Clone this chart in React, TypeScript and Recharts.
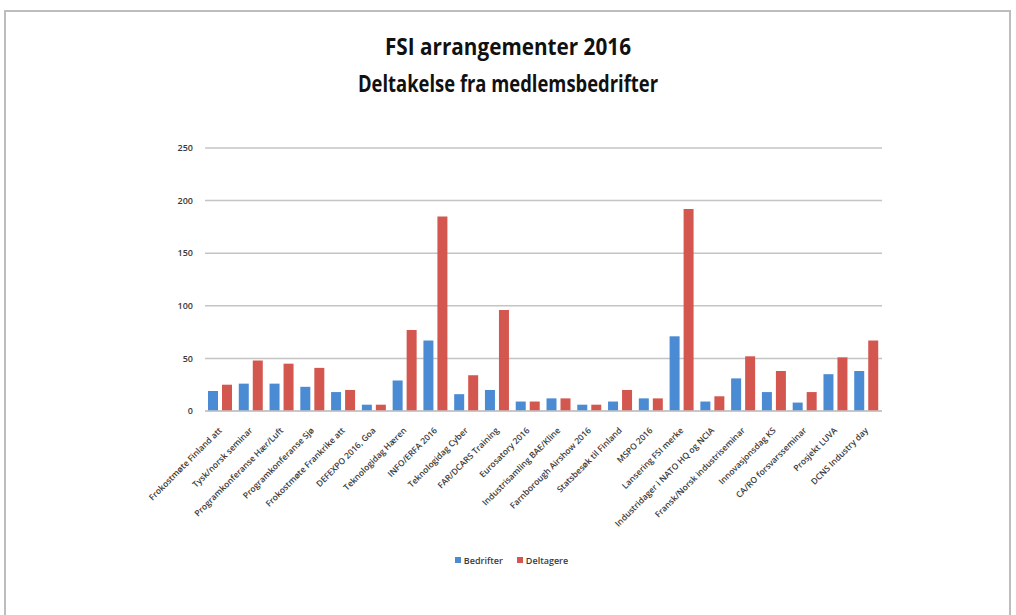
import React from "react";
import { BarChart, Bar, XAxis, YAxis, CartesianGrid, Legend } from "recharts";

const categories = [
  "Frokostmøte Finland att",
  "Tysk/norsk seminar",
  "Programkonferanse Hær/Luft",
  "Programkonferanse Sjø",
  "Frokostmøte Frankrike att",
  "DEFEXPO 2016, Goa",
  "Teknologidag Hæren",
  "INFO/ERFA 2016",
  "Teknologidag Cyber",
  "FAR/DCARS Training",
  "Eurosatory 2016",
  "Industrisamling BAE/Kline",
  "Farnborough Airshow 2016",
  "Statsbesøk til Finland",
  "MSPO 2016",
  "Lansering FSI merke",
  "Industridager i NATO HQ og NCIA",
  "Fransk/Norsk industriseminar",
  "Innovasjonsdag KS",
  "CA/RO forsvarsseminar",
  "Prosjekt LUVA",
  "DCNS Industry day",
];
const bedrifter = [19, 26, 26, 23, 18, 6, 29, 67, 16, 20, 9, 12, 6, 9, 12, 71, 9, 31, 18, 8, 35, 38];
const deltagere = [25, 48, 45, 41, 20, 6, 77, 185, 34, 96, 9, 12, 6, 20, 12, 192, 14, 52, 38, 18, 51, 67];
const yTicks = [0, 50, 100, 150, 200, 250];
const seriesNames = ["Bedrifter", "Deltagere"];
const colors = ["#4a8bd3", "#d4574f"];

const data = categories.map((c, i) => ({
  name: c,
  Bedrifter: bedrifter[i],
  Deltagere: deltagere[i],
}));

const FONT = "'Open Sans', 'Noto Sans', sans-serif";

const XTick = (props: any) => {
  const { x, y, payload } = props;
  return (
    <g transform={`translate(${x + 2},${y + 12})`}>
      <text
        x={0}
        y={0}
        textAnchor="end"
        transform="rotate(-45)"
        fontSize={8.5}
        fontWeight={600}
        fill="#3a3a3a"
        fontFamily={FONT}
      >
        {payload.value}
      </text>
    </g>
  );
};

const LegendContent = () => (
  <div style={{ display: "flex", justifyContent: "center", height: 20, alignItems: "center", fontFamily: FONT, fontSize: 9, fontWeight: 600, color: "#3a3a3a", paddingRight: 34 }}>
    {seriesNames.map((n, i) => (
      <div key={n} style={{ display: "flex", alignItems: "center", marginRight: i === 0 ? 14 : 0 }}>
        <div style={{ width: 6, height: 6, background: colors[i], marginRight: 3 }} />
        <span>{n}</span>
      </div>
    ))}
  </div>
);

export default function App() {
  return (
    <div style={{ position: "absolute", left: 0, top: 0, width: 1016, height: 615, background: "#fff", overflow: "hidden" }}>
      <div style={{ position: "absolute", left: 4, top: 10, width: 1007, height: 620, border: "2px solid #bdbdbd", boxSizing: "border-box" }} />
      <svg style={{ position: "absolute", left: 0, top: 0 }} width={1016} height={120}>
        <text x={508} y={55} textAnchor="middle" fontFamily={FONT} fontWeight={700} fontSize={23} fill="#111" textLength={246} lengthAdjust="spacingAndGlyphs">
          FSI arrangementer 2016
        </text>
        <text x={508} y={92} textAnchor="middle" fontFamily={FONT} fontWeight={700} fontSize={23} fill="#111" textLength={300} lengthAdjust="spacingAndGlyphs">
          Deltakelse fra medlemsbedrifter
        </text>
      </svg>
      <div style={{ position: "absolute", left: 0, top: 0 }}>
        <BarChart
          width={1016}
          height={615}
          data={data}
          margin={{ top: 148, right: 134, left: 175, bottom: 45 }}
          barGap={4}
          barSize={10}
        >
          <CartesianGrid vertical={false} stroke="#c4c4c4" strokeWidth={1.5} />
          <XAxis
            dataKey="name"
            interval={0}
            tick={<XTick />}
            tickLine={false}
            axisLine={{ stroke: "#c4c4c4", strokeWidth: 1.5 }}
            height={139}
          />
          <YAxis
            width={30}
            domain={[0, 250]}
            ticks={yTicks}
            tickLine={false}
            axisLine={false}
            tick={{ fontSize: 9, fontWeight: 600, fill: "#3a3a3a", fontFamily: FONT }}
            tickMargin={6}
          />
          <Legend verticalAlign="bottom" content={<LegendContent />} />
          <Bar dataKey="Bedrifter" fill={colors[0]} isAnimationActive={false} />
          <Bar dataKey="Deltagere" fill={colors[1]} isAnimationActive={false} />
        </BarChart>
      </div>
    </div>
  );
}
